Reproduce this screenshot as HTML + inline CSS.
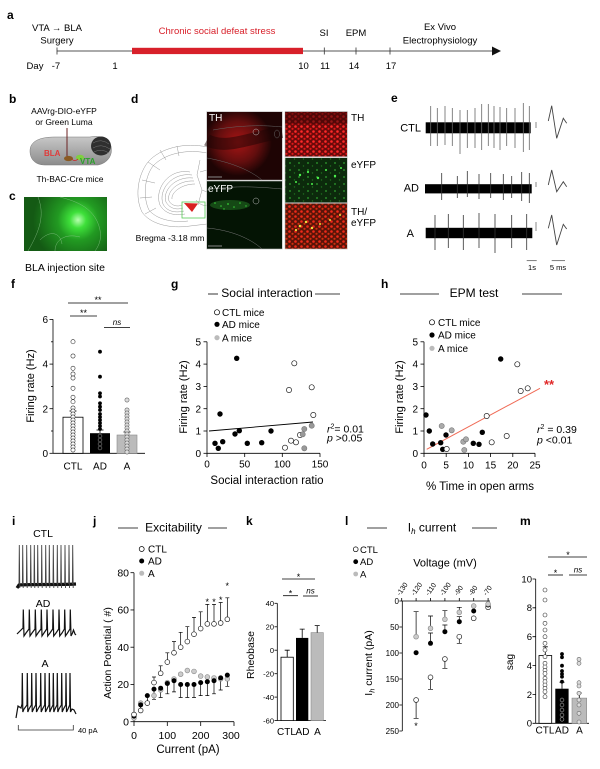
<!DOCTYPE html>
<html><head><meta charset="utf-8"><style>
html,body{margin:0;padding:0;background:#fff;width:600px;height:769px;overflow:hidden;}
svg{display:block;font-family:"Liberation Sans",Arial,sans-serif;}
</style></head><body>
<svg width="600" height="769" viewBox="0 0 600 769" xmlns="http://www.w3.org/2000/svg">
<defs>
<radialGradient id="gc" cx="78" cy="220" r="45" gradientUnits="userSpaceOnUse">
<stop offset="0" stop-color="#b8ffb0"/><stop offset="0.18" stop-color="#3ee03a"/><stop offset="0.45" stop-color="#229a22"/><stop offset="1" stop-color="#145a14"/></radialGradient>
<radialGradient id="thr" cx="238" cy="142" r="34" gradientUnits="userSpaceOnUse">
<stop offset="0" stop-color="#c01818"/><stop offset="0.6" stop-color="#701010"/><stop offset="1" stop-color="#1e0404"/></radialGradient>
<linearGradient id="brain" x1="0" y1="0" x2="0" y2="1"><stop offset="0" stop-color="#c8c8c8"/><stop offset="1" stop-color="#8c8c8c"/></linearGradient>
<pattern id="rd" width="6" height="5" patternUnits="userSpaceOnUse"><rect width="6" height="5" fill="#6a0a0a"/><circle cx="1.5" cy="1.5" r="1.3" fill="#ff2a2a"/><circle cx="4.5" cy="3.8" r="1.1" fill="#e01818"/></pattern>
<pattern id="gd" width="9" height="7" patternUnits="userSpaceOnUse"><rect width="9" height="7" fill="#0c2a0c"/><circle cx="2" cy="2" r="0.9" fill="#2fa02f"/><circle cx="6.5" cy="5" r="0.7" fill="#1f701f"/></pattern>
<pattern id="md" width="6" height="5" patternUnits="userSpaceOnUse"><rect width="6" height="5" fill="#5a1408"/><circle cx="1.5" cy="1.5" r="1.3" fill="#f02a1a"/><circle cx="4.5" cy="3.8" r="1.1" fill="#d03010"/></pattern>
</defs>

<!-- ===== a ===== -->
<text x="7" y="19" font-size="12" font-weight="bold">a</text>
<g font-size="9.5" text-anchor="middle">
<text x="57" y="31">VTA → BLA</text>
<text x="57" y="43.5">Surgery</text>
<text x="217" y="34" fill="#d8202a">Chronic social defeat stress</text>
<text x="324" y="36">SI</text>
<text x="356" y="36">EPM</text>
<text x="440" y="30">Ex Vivo</text>
<text x="440" y="43.5">Electrophysiology</text>
<text x="35" y="69">Day</text>
<text x="56" y="69">-7</text>
<text x="115" y="69">1</text>
<text x="303.5" y="69">10</text>
<text x="325" y="69">11</text>
<text x="354" y="69">14</text>
<text x="391" y="69">17</text>
</g>
<line x1="57" y1="51" x2="494" y2="51" stroke="#555" stroke-width="1"/>
<polygon points="492,46.5 501,51 492,55.5" fill="#111"/>
<g stroke="#333" stroke-width="0.8">
<line x1="57" y1="47.5" x2="57" y2="54.5"/>
<line x1="324.3" y1="47.5" x2="324.3" y2="54.5"/>
<line x1="356" y1="47.5" x2="356" y2="54.5"/>
<line x1="390" y1="47.5" x2="390" y2="54.5"/>
</g>
<rect x="132" y="47.8" width="171" height="6.3" fill="#d8202a"/>

<!-- ===== b ===== -->
<text x="9" y="103" font-size="12" font-weight="bold">b</text>
<g font-size="8.5" text-anchor="middle">
<text x="64" y="114">AAVrg-DIO-eYFP</text>
<text x="64" y="125">or Green Luma</text>
<text x="70" y="182">Th-BAC-Cre mice</text>
</g>
<path d="M30,151 C30,141 40,137 55,137 L90,137 C100,135 108,138 111,146 C113,155 108,163 98,165 L45,165 C35,165 30,159 30,151 Z" fill="url(#brain)" stroke="#777" stroke-width="0.5"/>
<ellipse cx="101" cy="146" rx="10" ry="9.5" fill="#2f2f2f"/>
<path d="M93,143 Q101,138 109,144 M93,148 Q101,143 110,149 M94,152 Q101,148 109,153" stroke="#777" stroke-width="0.5" fill="none"/>
<line x1="67" y1="128" x2="67" y2="157" stroke="#6b2222" stroke-width="1"/>
<ellipse cx="68.5" cy="158.5" rx="4.5" ry="2.6" fill="#8a5a22"/>
<ellipse cx="80" cy="157.5" rx="4" ry="2.8" fill="#7fd040"/>
<path d="M78,159 Q75,162 72,159.5" stroke="#d02020" stroke-width="0.8" fill="none"/>
<text x="44" y="156" font-size="8" font-weight="bold" fill="#e03a3a">BLA</text>
<text x="80" y="164" font-size="8" font-weight="bold" fill="#2aa02a">VTA</text>

<!-- ===== c ===== -->
<text x="9" y="200" font-size="12" font-weight="bold">c</text>
<rect x="24" y="197" width="83" height="54" fill="url(#gc)"/>
<path d="M38,197 C45,215 40,230 28,251 M60,197 C70,200 95,205 100,230 C102,240 98,247 95,251 M55,251 C55,240 65,233 80,237 M40,240 C50,230 60,232 62,244" stroke="#9c9" stroke-width="0.5" fill="none" opacity="0.7"/>
<text x="65" y="271" font-size="10.5" text-anchor="middle">BLA injection site</text>

<!-- ===== d ===== -->
<text x="131" y="103" font-size="12" font-weight="bold">d</text>
<g stroke="#9a9a9a" stroke-width="0.5" fill="none">
<path d="M207,147 C185,142 160,148 148,162 C137,176 135,198 142,212 C150,224 170,229 190,226 L207,224"/>
<path d="M207,153 C188,149 165,153 153,166 C144,178 143,198 149,210 C156,219 172,223 188,221"/>
<path d="M190,172 C168,168 154,190 160,205 C165,214 175,216 185,214"/>
<path d="M192,175 C172,172 158,190 163,204 C167,212 176,213 184,211"/>
<path d="M193,178 C175,176 162,191 166,202 C170,209 177,210 183,208"/>
<path d="M194,181 C178,180 166,192 169,201 C172,206 178,207 182,205"/>
<path d="M195,184 C181,184 171,193 172,199"/>
<path d="M148,162 L160,170 M142,180 L155,183 M140,198 L152,197 M145,214 L156,208 M160,150 L166,160 M177,146 L179,156"/>
<path d="M200,160 L197,175 L202,190 L198,205 M207,170 L200,172 M202,190 L207,192"/>
<path d="M196,200 C200,205 204,206 207,205"/>
</g>
<polygon points="184,203 198,203.5 192,212" fill="#d82020"/>
<rect x="182" y="202" width="23" height="16" fill="none" stroke="#5c5" stroke-width="0.8"/>
<text x="170" y="241" font-size="8.6" text-anchor="middle">Bregma -3.18 mm</text>

<rect x="206.7" y="111.7" width="75.6" height="68.3" fill="#1c0404" stroke="#bbb" stroke-width="0.6"/>
<rect x="207" y="112" width="75" height="67.7" fill="url(#thr)" opacity="0.85"/>
<path d="M207,140 C225,150 250,138 282,132" stroke="#1c0404" stroke-width="12" fill="none" opacity="0.5"/>
<path d="M213,130 C240,125 265,125 282,127 M207,158 C230,162 250,170 262,180" stroke="#666" stroke-width="0.5" fill="none"/>
<ellipse cx="256" cy="132" rx="3" ry="3" fill="none" stroke="#bbb" stroke-width="0.5"/>
<ellipse cx="277" cy="134" rx="2.5" ry="4" fill="none" stroke="#666" stroke-width="0.5"/>
<line x1="208" y1="177" x2="222" y2="177" stroke="#888" stroke-width="1"/>
<text x="209" y="121" font-size="10" fill="#fff">TH</text>

<rect x="206.7" y="181" width="75.6" height="68" fill="#041404" stroke="#bbb" stroke-width="0.6"/>
<path d="M207,190 C235,185 260,187 282,189 M207,228 C230,230 250,238 262,249" stroke="#777" stroke-width="0.5" fill="none"/>
<ellipse cx="230" cy="205" rx="20" ry="5" fill="#2a8a2a" opacity="0.45"/>
<g fill="#3bd03b"><circle cx="215" cy="203" r="0.8"/><circle cx="221" cy="206" r="0.8"/><circle cx="228" cy="204" r="0.9"/><circle cx="234" cy="207" r="0.8"/><circle cx="240" cy="203" r="0.8"/><circle cx="246" cy="206" r="0.7"/><circle cx="224" cy="209" r="0.7"/></g>
<ellipse cx="256" cy="201" rx="3" ry="3" fill="none" stroke="#bbb" stroke-width="0.5"/>
<line x1="208" y1="246" x2="222" y2="246" stroke="#888" stroke-width="1"/>
<text x="208" y="192" font-size="10" fill="#fff">eYFP</text>

<rect x="285" y="111.7" width="62.3" height="45" fill="url(#rd)" stroke="#bbb" stroke-width="0.6"/>
<rect x="285" y="111.7" width="62.3" height="12" fill="#3a0606" opacity="0.55"/>
<rect x="285" y="157.7" width="62.3" height="45" fill="url(#gd)" stroke="#bbb" stroke-width="0.6"/>
<g fill="#4cf04c"><circle cx="300" cy="175" r="1.2"/><circle cx="308" cy="172" r="1.1"/><circle cx="318" cy="178" r="1.2"/><circle cx="326" cy="170" r="1"/><circle cx="335" cy="176" r="1.2"/><circle cx="341" cy="168" r="1"/><circle cx="296" cy="182" r="1"/><circle cx="312" cy="184" r="1"/></g>
<rect x="285" y="203.3" width="62.3" height="45.7" fill="url(#md)" stroke="#bbb" stroke-width="0.6"/>
<g fill="#e8e040"><circle cx="300" cy="226" r="1.3"/><circle cx="306" cy="222" r="1.2"/><circle cx="312" cy="228" r="1.2"/><circle cx="296" cy="230" r="1.1"/><circle cx="320" cy="224" r="1"/><circle cx="330" cy="220" r="1"/><circle cx="340" cy="215" r="1"/></g>
<g font-size="10"><text x="351" y="121">TH</text><text x="351" y="168">eYFP</text><text x="351" y="215">TH/</text><text x="351" y="226">eYFP</text></g>

<!-- ===== e ===== -->
<text x="391" y="102" font-size="12" font-weight="bold">e</text>
<g font-size="11" text-anchor="end"><text x="421" y="131.5">CTL</text><text x="419" y="191.5">AD</text><text x="414" y="237">A</text></g>
<rect x="425.7" y="122.3" width="105" height="11" fill="#000"/>
<rect x="425" y="184.2" width="106.7" height="9.2" fill="#000"/>
<rect x="425.7" y="227.8" width="106.6" height="10.4" fill="#000"/>
<g stroke="#666" stroke-width="0.8">
<line x1="430.7" y1="106" x2="430.7" y2="146"/><line x1="437.3" y1="108" x2="437.3" y2="146"/><line x1="445" y1="106" x2="445" y2="145"/><line x1="452.3" y1="108" x2="452.3" y2="146"/><line x1="460" y1="110" x2="460" y2="154"/><line x1="467.3" y1="110" x2="467.3" y2="148"/><line x1="475" y1="108" x2="475" y2="148"/><line x1="481.7" y1="104" x2="481.7" y2="150"/><line x1="488.3" y1="104" x2="488.3" y2="146"/><line x1="494" y1="106" x2="494" y2="148"/><line x1="500" y1="107" x2="500" y2="150"/><line x1="506.7" y1="108" x2="506.7" y2="146"/><line x1="515" y1="108" x2="515" y2="148"/><line x1="523.3" y1="103" x2="523.3" y2="152"/><line x1="529.3" y1="106" x2="529.3" y2="150"/>
</g>
<g stroke="#333" stroke-width="0.8">
<line x1="441.7" y1="173" x2="441.7" y2="200"/><line x1="457.3" y1="176" x2="457.3" y2="198"/><line x1="467.3" y1="171" x2="467.3" y2="197"/><line x1="479" y1="174" x2="479" y2="199"/><line x1="490.7" y1="173" x2="490.7" y2="198"/><line x1="503.3" y1="174" x2="503.3" y2="200"/><line x1="511.7" y1="176" x2="511.7" y2="198"/><line x1="521.7" y1="172" x2="521.7" y2="201"/><line x1="529.3" y1="173" x2="529.3" y2="203"/>
<line x1="435" y1="215" x2="435" y2="250"/><line x1="448.3" y1="214" x2="448.3" y2="248"/><line x1="463.3" y1="215" x2="463.3" y2="250"/><line x1="479" y1="213" x2="479" y2="248"/><line x1="495" y1="214" x2="495" y2="253"/><line x1="511.7" y1="215" x2="511.7" y2="248"/><line x1="526.7" y1="214" x2="526.7" y2="250"/>
</g>
<g stroke="#888" stroke-width="1"><line x1="536" y1="122" x2="536" y2="128"/><line x1="536" y1="182" x2="536" y2="187"/><line x1="536" y1="222" x2="536" y2="231"/></g>
<g stroke="#444" stroke-width="0.9" fill="none">
<path d="M548.3,121 L551.7,105.7 L556.7,138.3 L563.3,118.3 L566.7,123.3"/>
<path d="M548.3,185 L551.7,170 L556.7,191.7 L563.3,181.7 L566.7,186.7"/>
<path d="M548.3,228.3 L551.7,215 L556.7,245 L563.3,224.3 L566.7,229"/>
</g>
<g stroke="#444" stroke-width="0.7"><line x1="526.7" y1="260.7" x2="536.7" y2="260.7"/><line x1="551.7" y1="260.7" x2="565" y2="260.7"/></g>
<g font-size="7.5" text-anchor="middle"><text x="532" y="270">1s</text><text x="558" y="270">5 ms</text></g>

<!-- ===== f ===== -->
<text x="11" y="288" font-size="12" font-weight="bold">f</text>
<g stroke="#000" stroke-width="0.8" fill="none">
<line x1="53" y1="319.3" x2="53" y2="453.3"/><line x1="53" y1="453.3" x2="145" y2="453.3"/>
<line x1="49.5" y1="453.3" x2="53" y2="453.3"/><line x1="49.5" y1="408.7" x2="53" y2="408.7"/><line x1="49.5" y1="364.1" x2="53" y2="364.1"/><line x1="49.5" y1="319.5" x2="53" y2="319.5"/>
<line x1="51" y1="431" x2="53" y2="431"/><line x1="51" y1="386.4" x2="53" y2="386.4"/><line x1="51" y1="341.8" x2="53" y2="341.8"/>
</g>
<g font-size="10" text-anchor="end"><text x="48" y="457">0</text><text x="48" y="412.3">2</text><text x="48" y="367.7">4</text><text x="48" y="323">6</text></g>
<text transform="translate(34,386) rotate(-90)" font-size="11" text-anchor="middle">Firing rate (Hz)</text>
<rect x="63" y="417.2" width="20" height="36.1" fill="#fff" stroke="#000" stroke-width="0.8"/>
<rect x="90" y="433.2" width="20" height="20.1" fill="#000"/>
<rect x="117" y="435" width="20" height="18.3" fill="#bbb" stroke="#888" stroke-width="0.6"/>
<g stroke="#000" stroke-width="0.8"><line x1="73" y1="417" x2="73" y2="411"/><line x1="69.5" y1="411" x2="76.5" y2="411"/><line x1="100" y1="433" x2="100" y2="430"/><line x1="96.5" y1="430" x2="103.5" y2="430"/><line x1="127" y1="435" x2="127" y2="432"/><line x1="123.5" y1="432" x2="130.5" y2="432"/></g>
<g fill="#fff" stroke="#333" stroke-width="0.6">
<circle cx="73" cy="341.7" r="2.1"/><circle cx="73" cy="356" r="2.1"/><circle cx="73" cy="368.3" r="2.1"/><circle cx="73" cy="374" r="2.1"/><circle cx="73" cy="378" r="2.1"/><circle cx="73" cy="388.3" r="2.1"/><circle cx="73" cy="397.3" r="2.1"/><circle cx="73" cy="401.7" r="2.1"/><circle cx="73" cy="408" r="2.1"/><circle cx="73" cy="411" r="2.1"/><circle cx="73" cy="414" r="2.1"/><circle cx="73" cy="417" r="2.1"/><circle cx="73" cy="420" r="2.1"/><circle cx="73" cy="423" r="2.1"/><circle cx="73" cy="426" r="2.1"/><circle cx="73" cy="429" r="2.1"/><circle cx="73" cy="432" r="2.1"/><circle cx="73" cy="435" r="2.1"/><circle cx="73" cy="438" r="2.1"/><circle cx="73" cy="441" r="2.1"/><circle cx="73" cy="444" r="2.1"/><circle cx="73" cy="447" r="2.1"/><circle cx="73" cy="450" r="2.1"/>
</g>
<g fill="#000">
<circle cx="100" cy="351.7" r="1.9"/><circle cx="100" cy="376.7" r="1.9"/><circle cx="100" cy="393.3" r="1.9"/><circle cx="100" cy="396.5" r="1.9"/><circle cx="100" cy="403.3" r="1.9"/><circle cx="100" cy="406.7" r="1.9"/><circle cx="100" cy="410" r="1.9"/><circle cx="100" cy="414" r="1.9"/><circle cx="100" cy="417" r="1.9"/><circle cx="100" cy="420" r="1.9"/><circle cx="100" cy="423" r="1.9"/><circle cx="100" cy="426" r="1.9"/><circle cx="100" cy="429" r="1.9"/>
</g>
<g fill="none" stroke="#888" stroke-width="0.6"><circle cx="100" cy="436" r="1.9"/><circle cx="100" cy="440" r="1.9"/><circle cx="100" cy="444" r="1.9"/><circle cx="100" cy="448" r="1.9"/></g>
<g fill="#ddd" stroke="#666" stroke-width="0.6">
<circle cx="127" cy="400" r="2.1"/><circle cx="127" cy="410" r="2.1"/><circle cx="127" cy="413" r="2.1"/><circle cx="127" cy="416" r="2.1"/><circle cx="127" cy="419" r="2.1"/><circle cx="127" cy="422" r="2.1"/><circle cx="127" cy="425" r="2.1"/><circle cx="127" cy="428" r="2.1"/><circle cx="127" cy="431" r="2.1"/><circle cx="127" cy="434" r="2.1"/><circle cx="127" cy="437" r="2.1"/><circle cx="127" cy="440" r="2.1"/><circle cx="127" cy="443" r="2.1"/><circle cx="127" cy="446" r="2.1"/><circle cx="127" cy="449" r="2.1"/><circle cx="127" cy="452" r="2.1"/>
</g>
<g font-size="10" text-anchor="middle"><text x="73" y="469.5">CTL</text><text x="100" y="469.5">AD</text><text x="127" y="469.5">A</text></g>
<g stroke="#000" stroke-width="0.8"><line x1="68" y1="303" x2="128" y2="303"/><line x1="70" y1="316" x2="97" y2="316"/><line x1="104" y1="327.5" x2="130" y2="327.5"/></g>
<g font-size="9" text-anchor="middle"><text x="98" y="303">**</text><text x="83.5" y="316">**</text><text x="117" y="325" font-style="italic" font-size="8">ns</text></g>

<!-- ===== g ===== -->
<text x="171" y="288" font-size="12" font-weight="bold">g</text>
<text x="267" y="297" font-size="12" text-anchor="middle">Social interaction</text>
<g stroke="#000" stroke-width="0.8"><line x1="208" y1="294" x2="218" y2="294"/><line x1="315" y1="294" x2="340" y2="294"/></g>
<circle cx="217" cy="312.3" r="2.6" fill="#fff" stroke="#000" stroke-width="0.7"/>
<circle cx="217" cy="324.3" r="2.6" fill="#000"/>
<circle cx="217" cy="337.7" r="2.6" fill="#bbb"/>
<g font-size="10"><text x="222" y="316">CTL mice</text><text x="222" y="328">AD mice</text><text x="222" y="341.3">A mice</text></g>
<g stroke="#000" stroke-width="0.8" fill="none">
<line x1="207" y1="341.7" x2="207" y2="453.3"/><line x1="207" y1="453.3" x2="320" y2="453.3"/>
<line x1="203.5" y1="453.3" x2="207" y2="453.3"/><line x1="203.5" y1="431" x2="207" y2="431"/><line x1="203.5" y1="408.7" x2="207" y2="408.7"/><line x1="203.5" y1="386.4" x2="207" y2="386.4"/><line x1="203.5" y1="364.1" x2="207" y2="364.1"/><line x1="203.5" y1="341.8" x2="207" y2="341.8"/>
<line x1="207" y1="453.3" x2="207" y2="457"/><line x1="244.7" y1="453.3" x2="244.7" y2="457"/><line x1="282.3" y1="453.3" x2="282.3" y2="457"/><line x1="320" y1="453.3" x2="320" y2="457"/>
</g>
<g font-size="10" text-anchor="end"><text x="201" y="457">0</text><text x="201" y="434.6">1</text><text x="201" y="412.3">2</text><text x="201" y="390">3</text><text x="201" y="367.7">4</text><text x="201" y="345.4">5</text></g>
<g font-size="10" text-anchor="middle"><text x="207" y="467.5">0</text><text x="244.7" y="467.5">50</text><text x="282.3" y="467.5">100</text><text x="320" y="467.5">150</text></g>
<text x="267" y="484" font-size="11.5" text-anchor="middle">Social interaction ratio</text>
<text transform="translate(187,397) rotate(-90)" font-size="11" text-anchor="middle">Firing rate (Hz)</text>
<line x1="209" y1="431" x2="313" y2="422" stroke="#000" stroke-width="0.9"/>
<g fill="#000">
<circle cx="215" cy="443.3" r="2.7"/><circle cx="218.3" cy="448.3" r="2.7"/><circle cx="220" cy="414" r="2.7"/><circle cx="222.7" cy="441.7" r="2.7"/><circle cx="235" cy="434" r="2.7"/><circle cx="236.7" cy="358.3" r="2.7"/><circle cx="239.3" cy="430.7" r="2.7"/><circle cx="247.3" cy="443.3" r="2.7"/><circle cx="261.7" cy="442.7" r="2.7"/><circle cx="271" cy="431" r="2.7"/>
</g>
<g fill="#fff" stroke="#222" stroke-width="0.7">
<circle cx="285" cy="447.7" r="2.6"/><circle cx="289" cy="390" r="2.6"/><circle cx="291" cy="440.7" r="2.6"/><circle cx="294.3" cy="363.3" r="2.6"/><circle cx="296" cy="442.3" r="2.6"/><circle cx="300" cy="435" r="2.6"/><circle cx="311.7" cy="387.3" r="2.6"/><circle cx="313.3" cy="415" r="2.6"/>
</g>
<g fill="#999" stroke="#777" stroke-width="0.6">
<circle cx="302.7" cy="434.3" r="2.6"/><circle cx="304.3" cy="429" r="2.6"/><circle cx="304.3" cy="448.3" r="2.6"/><circle cx="311.7" cy="425.7" r="2.6"/>
</g>
<g font-size="10.5"><text x="327" y="432.5"><tspan font-style="italic">r</tspan><tspan font-size="7" dy="-4">2</tspan><tspan dy="4">= 0.01</tspan></text><text x="327" y="441.5"><tspan font-style="italic">p</tspan> &gt;0.05</text></g>

<!-- ===== h ===== -->
<text x="381" y="288" font-size="12" font-weight="bold">h</text>
<text x="474" y="297" font-size="12" text-anchor="middle">EPM test</text>
<g stroke="#000" stroke-width="0.8"><line x1="400" y1="294" x2="439" y2="294"/><line x1="522" y1="294" x2="562" y2="294"/></g>
<circle cx="432" cy="322.3" r="2.6" fill="#fff" stroke="#000" stroke-width="0.7"/>
<circle cx="432" cy="335" r="2.6" fill="#000"/>
<circle cx="432" cy="348.3" r="2.6" fill="#bbb"/>
<g font-size="10"><text x="438" y="326">CTL mice</text><text x="438" y="338.7">AD mice</text><text x="438" y="352">A mice</text></g>
<g stroke="#000" stroke-width="0.8" fill="none">
<line x1="424" y1="341.7" x2="424" y2="453.3"/><line x1="424" y1="453.3" x2="535" y2="453.3"/>
<line x1="420.5" y1="453.3" x2="424" y2="453.3"/><line x1="420.5" y1="431" x2="424" y2="431"/><line x1="420.5" y1="408.7" x2="424" y2="408.7"/><line x1="420.5" y1="386.4" x2="424" y2="386.4"/><line x1="420.5" y1="364.1" x2="424" y2="364.1"/><line x1="420.5" y1="341.8" x2="424" y2="341.8"/>
<line x1="424" y1="453.3" x2="424" y2="457"/><line x1="446.2" y1="453.3" x2="446.2" y2="457"/><line x1="468.4" y1="453.3" x2="468.4" y2="457"/><line x1="490.6" y1="453.3" x2="490.6" y2="457"/><line x1="512.8" y1="453.3" x2="512.8" y2="457"/><line x1="535" y1="453.3" x2="535" y2="457"/>
</g>
<g font-size="10" text-anchor="end"><text x="418" y="457">0</text><text x="418" y="434.6">1</text><text x="418" y="412.3">2</text><text x="418" y="390">3</text><text x="418" y="367.7">4</text><text x="418" y="345.4">5</text></g>
<g font-size="10" text-anchor="middle"><text x="424" y="468.5">0</text><text x="446.2" y="468.5">5</text><text x="468.4" y="468.5">10</text><text x="490.6" y="468.5">15</text><text x="512.8" y="468.5">20</text><text x="535" y="468.5">25</text></g>
<text x="480" y="490" font-size="11.5" text-anchor="middle">% Time in open arms</text>
<text transform="translate(403,397) rotate(-90)" font-size="11" text-anchor="middle">Firing rate (Hz)</text>
<line x1="426.7" y1="449.3" x2="540" y2="388.3" stroke="#f06a55" stroke-width="1"/>
<text x="549" y="389" font-size="13" fill="#e02828" text-anchor="middle" font-weight="bold">**</text>
<g fill="#000">
<circle cx="426" cy="415" r="2.7"/><circle cx="429.3" cy="431" r="2.7"/><circle cx="432.7" cy="444" r="2.7"/><circle cx="440.7" cy="442.7" r="2.7"/><circle cx="442.7" cy="449.3" r="2.7"/><circle cx="446" cy="435" r="2.7"/><circle cx="473.3" cy="443.3" r="2.7"/><circle cx="479" cy="444.3" r="2.7"/><circle cx="482.3" cy="432.3" r="2.7"/><circle cx="500.7" cy="359" r="2.7"/>
</g>
<g fill="#fff" stroke="#222" stroke-width="0.7">
<circle cx="446.7" cy="449" r="2.6"/><circle cx="486.7" cy="416" r="2.6"/><circle cx="491.7" cy="442.3" r="2.6"/><circle cx="506.7" cy="436" r="2.6"/><circle cx="517.3" cy="364.3" r="2.6"/><circle cx="520.7" cy="391" r="2.6"/><circle cx="527.7" cy="388.3" r="2.6"/>
</g>
<g fill="#aaa" stroke="#777" stroke-width="0.6">
<circle cx="441.7" cy="426" r="2.6"/><circle cx="451.7" cy="430.3" r="2.6"/><circle cx="463.3" cy="441.7" r="2.6"/><circle cx="466" cy="439.3" r="2.6"/><circle cx="464.3" cy="450" r="2.6"/>
</g>
<g font-size="10.5"><text x="537" y="433"><tspan font-style="italic">r</tspan><tspan font-size="7" dy="-4">2</tspan><tspan dy="4"> = 0.39</tspan></text><text x="537" y="443.5"><tspan font-style="italic">p</tspan> &lt;0.01</text></g>

<!-- ===== i ===== -->
<text x="12" y="525" font-size="12" font-weight="bold">i</text>
<g font-size="10.5" text-anchor="middle"><text x="43" y="537">CTL</text><text x="43" y="607">AD</text><text x="45" y="667">A</text></g>
<path d="M17,588 L19,585 C30,584 60,585 76,584" stroke="#111" stroke-width="3.2" fill="none"/>
<path d="M19,584 L19.3,545 L19.8,588 M22.4,584 L22.7,545 L23.2,588 M26.4,584 L26.7,545 L27.2,588 M30.4,584 L30.7,545 L31.2,588 M34,584 L34.3,545 L34.8,588 M37.4,584 L37.7,545 L38.2,588 M41.4,584 L41.7,545 L42.2,588 M45.4,584 L45.7,545 L46.2,588 M49,584 L49.3,545 L49.8,588 M53,584 L53.3,545 L53.8,588 M57,584 L57.3,545 L57.8,588 M60.7,584 L61,545 L61.5,588 M64.7,584 L65,545 L65.5,588 M68.7,584 L69,545 L69.5,588 M72.4,584 L72.7,545 L73.2,588" stroke="#444" stroke-width="0.9" fill="none"/>
<path d="M17,634 L20,631 L23,628 L23.3,609.5 L24,636 L26,633 L29,629 L29.3,609.5 L30,636 L32,633 L35,629 L35.3,609.5 L36,636 L38,633 L41,629 L41.3,609.5 L42,636 L44,633 L46.7,629 L47,609.5 L47.7,636 L50,633 L52.7,629 L53,609.5 L53.7,636 L56,633 L58.7,629 L59,609.5 L59.7,636 L62,633 L64.4,629 L64.7,609.5 L65.4,636 L67.5,633 L70,629 L70.3,609.5 L71,636 L72.5,633 L73.5,630 L75,634 L76,635" stroke="#111" stroke-width="1.2" fill="none"/>
<path d="M16,718 L18,706 L21,708 L22,704 L22.3,673 L22.8,712 L24,709 L27,705 L27.3,673 L27.8,712 L29,709 L31.4,705 L31.7,673 L32.2,712 L33.5,709 L35.7,705 L36,673 L36.5,712 L38,709 L40.4,705 L40.7,673 L41.2,712 L42.5,709 L44.7,705 L45,673 L45.5,712 L47,709 L49,705 L49.3,673 L49.8,712 L51,709 L53,705 L53.3,673 L53.8,712 L55,709 L57,705 L57.3,673 L57.8,712 L59,709 L61.4,705 L61.7,673 L62.2,712 L63.5,709 L65.7,705 L66,673 L66.5,712 L68,709 L69.7,705 L70,673 L70.5,712 L72,709 L74,710 L76,714" stroke="#111" stroke-width="1.2" fill="none"/>
<path d="M18.3,725 L18.3,730 L73.3,730 L73.3,725" stroke="#333" stroke-width="0.8" fill="none"/>
<text x="78" y="733" font-size="7.5">40 pA</text>

<!-- ===== j ===== -->
<text x="93" y="525" font-size="12" font-weight="bold">j</text>
<text x="173.5" y="531.7" font-size="12" text-anchor="middle">Excitability</text>
<g stroke="#000" stroke-width="0.8"><line x1="118" y1="528" x2="138" y2="528"/><line x1="208" y1="528" x2="227" y2="528"/></g>
<circle cx="141.7" cy="549" r="2.5" fill="#fff" stroke="#000" stroke-width="0.7"/>
<circle cx="141.7" cy="561" r="2.5" fill="#000"/>
<circle cx="141.7" cy="573.3" r="2.5" fill="#bbb"/>
<g font-size="10"><text x="148" y="552.5">CTL</text><text x="148" y="564.5">AD</text><text x="148" y="577">A</text></g>
<g stroke="#000" stroke-width="0.8" fill="none">
<line x1="134" y1="572.7" x2="134" y2="721.7"/><line x1="134" y1="721.7" x2="234" y2="721.7"/>
<line x1="130.5" y1="721.7" x2="134" y2="721.7"/><line x1="130.5" y1="684.45" x2="134" y2="684.45"/><line x1="130.5" y1="647.2" x2="134" y2="647.2"/><line x1="130.5" y1="609.95" x2="134" y2="609.95"/><line x1="130.5" y1="572.7" x2="134" y2="572.7"/>
<line x1="134" y1="721.7" x2="134" y2="726"/><line x1="167.3" y1="721.7" x2="167.3" y2="726"/><line x1="200.7" y1="721.7" x2="200.7" y2="726"/><line x1="234" y1="721.7" x2="234" y2="726"/>
</g>
<g font-size="10.5" text-anchor="end"><text x="129" y="725.5">0</text><text x="129" y="688.2">20</text><text x="129" y="651">40</text><text x="129" y="613.7">60</text><text x="129" y="576.5">80</text></g>
<g font-size="10.5" text-anchor="middle"><text x="134" y="739">0</text><text x="167.3" y="739">100</text><text x="200.7" y="739">200</text><text x="231" y="739">300</text></g>
<text x="188" y="753" font-size="11.5" text-anchor="middle">Current (pA)</text>
<text transform="translate(111,653) rotate(-90)" font-size="10.5" text-anchor="middle">Action Potential ( #)</text>
<g stroke="#000" stroke-width="0.7" fill="none">
<path d="M134,716.1 V712.4 M140.67,710.5 V704.9 M147.33,703.1 V699.3 M154,682.6 V677 M160.67,673.3 V665.8 M167.33,662.1 V652.8 M174,652.8 V641.6 M180.67,647.2 V632.3 M187.33,641.6 V626.7 M194,634.2 V617.4 M200.67,628.6 V611.8 M207.33,623.9 V604.4 M214,623.9 V604.4 M220.67,623 V602.5 M227.33,619.3 V597.8"/>
<path d="M152,677 H156 M158.67,665.8 H162.67 M165.33,652.8 H169.33 M172,641.6 H176 M178.67,632.3 H182.67 M185.33,626.7 H189.33 M192,617.4 H196 M198.67,611.8 H202.67 M205.33,604.4 H209.33 M212,604.4 H216 M218.67,602.5 H222.67 M225.33,597.8 H229.33"/>
<path d="M140.67,704.9 V710.5 M147.33,695.6 V703.1 M154,689.1 V699.3 M160.67,688.2 V697.5 M167.33,683.5 V693.8 M174,680.7 V691.9 M180.67,684.5 V697.5 M187.33,684.5 V697.5 M194,684.5 V697.5 M200.67,682.6 V695.6 M207.33,681.7 V695.6 M214,680.7 V693.8 M220.67,677.9 V690 M227.33,675.1 V686.3"/>
<path d="M152,699.3 H156 M158.67,697.5 H162.67 M165.33,693.8 H169.33 M172,691.9 H176 M178.67,697.5 H182.67 M185.33,697.5 H189.33 M192,697.5 H196 M198.67,695.6 H202.67 M205.33,695.6 H209.33 M212,693.8 H216 M218.67,690 H222.67 M225.33,686.3 H229.33"/>
</g>
<g fill="#ccc" stroke="#888" stroke-width="0.6">
<circle cx="134" cy="718" r="2.4"/><circle cx="140.67" cy="703.1" r="2.4"/><circle cx="147.33" cy="703.1" r="2.4"/><circle cx="154" cy="695.6" r="2.4"/><circle cx="160.67" cy="690" r="2.4"/><circle cx="167.33" cy="682.6" r="2.4"/><circle cx="174" cy="678.9" r="2.4"/><circle cx="180.67" cy="674.2" r="2.4"/><circle cx="187.33" cy="670.5" r="2.4"/><circle cx="194" cy="671.4" r="2.4"/><circle cx="200.67" cy="676.1" r="2.4"/><circle cx="207.33" cy="677" r="2.4"/><circle cx="214" cy="677.9" r="2.4"/><circle cx="220.67" cy="678.9" r="2.4"/><circle cx="227.33" cy="678.9" r="2.4"/>
</g>
<g fill="#000">
<circle cx="134" cy="716.1" r="2.5"/><circle cx="140.67" cy="704.9" r="2.5"/><circle cx="147.33" cy="695.6" r="2.5"/><circle cx="154" cy="689.1" r="2.5"/><circle cx="160.67" cy="688.2" r="2.5"/><circle cx="167.33" cy="683.5" r="2.5"/><circle cx="174" cy="680.7" r="2.5"/><circle cx="180.67" cy="684.5" r="2.5"/><circle cx="187.33" cy="684.5" r="2.5"/><circle cx="194" cy="684.5" r="2.5"/><circle cx="200.67" cy="682.6" r="2.5"/><circle cx="207.33" cy="681.7" r="2.5"/><circle cx="214" cy="680.7" r="2.5"/><circle cx="220.67" cy="677.9" r="2.5"/><circle cx="227.33" cy="675.1" r="2.5"/>
</g>
<g fill="#fff" stroke="#222" stroke-width="0.7">
<circle cx="134" cy="714.5" r="2.4"/><circle cx="140.67" cy="710.5" r="2.4"/><circle cx="147.33" cy="703.1" r="2.4"/><circle cx="154" cy="682.6" r="2.4"/><circle cx="160.67" cy="673.3" r="2.4"/><circle cx="167.33" cy="662.1" r="2.4"/><circle cx="174" cy="652.8" r="2.4"/><circle cx="180.67" cy="647.2" r="2.4"/><circle cx="187.33" cy="641.6" r="2.4"/><circle cx="194" cy="634.2" r="2.4"/><circle cx="200.67" cy="628.6" r="2.4"/><circle cx="207.33" cy="623.9" r="2.4"/><circle cx="214" cy="623.9" r="2.4"/><circle cx="220.67" cy="623" r="2.4"/><circle cx="227.33" cy="619.3" r="2.4"/>
</g>
<g font-size="9" text-anchor="middle"><text x="207.3" y="605">*</text><text x="214" y="605">*</text><text x="220.7" y="603">*</text><text x="227.3" y="589">*</text></g>

<!-- ===== k ===== -->
<text x="246" y="525" font-size="12" font-weight="bold">k</text>
<g stroke="#000" stroke-width="0.8" fill="none">
<line x1="277.3" y1="603.3" x2="277.3" y2="720.6"/><line x1="277.3" y1="720.6" x2="326" y2="720.6"/>
<line x1="274.5" y1="603.3" x2="277.3" y2="603.3"/><line x1="274.5" y1="626.8" x2="277.3" y2="626.8"/><line x1="274.5" y1="650.2" x2="277.3" y2="650.2"/><line x1="274.5" y1="673.7" x2="277.3" y2="673.7"/><line x1="274.5" y1="697.1" x2="277.3" y2="697.1"/><line x1="274.5" y1="720.6" x2="277.3" y2="720.6"/>
</g>
<g font-size="7.5" text-anchor="end"><text x="274" y="606">40</text><text x="274" y="629.5">20</text><text x="274" y="653">0</text><text x="274" y="676.4">-20</text><text x="274" y="699.8">-40</text><text x="274" y="723.3">-60</text></g>
<text transform="translate(254,655) rotate(-90)" font-size="10.5" text-anchor="middle">Rheobase</text>
<rect x="281" y="657.2" width="12.3" height="63.4" fill="#fff" stroke="#000" stroke-width="0.8"/>
<rect x="296" y="637.9" width="12.3" height="82.7" fill="#000"/>
<rect x="311" y="632.6" width="12.3" height="88" fill="#bbb" stroke="#888" stroke-width="0.6"/>
<g stroke="#000" stroke-width="0.8"><path d="M287.2,657.2 V650.2 M284.7,650.2 H289.7 M302.2,637.9 V629.1 M299.7,629.1 H304.7 M317.2,632.6 V625.6 M314.7,625.6 H319.7" fill="none"/>
<line x1="282" y1="579" x2="315" y2="579"/><line x1="283" y1="595.7" x2="298" y2="595.7"/><line x1="303" y1="596" x2="318" y2="596"/></g>
<g font-size="9" text-anchor="middle"><text x="298.5" y="580">*</text><text x="290.5" y="596.5">*</text><text x="310.5" y="593.5" font-style="italic" font-size="8">ns</text></g>
<g font-size="10" text-anchor="middle"><text x="286.5" y="735">CTL</text><text x="302.5" y="735">AD</text><text x="317.5" y="735">A</text></g>

<!-- ===== l ===== -->
<text x="345" y="525" font-size="12" font-weight="bold">l</text>
<text x="432" y="531.7" font-size="12" text-anchor="middle">I<tspan font-style="italic" font-size="8" dy="2.5">h</tspan><tspan dy="-2.5"> current</tspan></text>
<g stroke="#000" stroke-width="0.8"><line x1="367" y1="528" x2="387" y2="528"/><line x1="472" y1="528" x2="497" y2="528"/></g>
<circle cx="355.7" cy="549.3" r="2.4" fill="#fff" stroke="#000" stroke-width="0.7"/>
<circle cx="355.7" cy="561.7" r="2.4" fill="#000"/>
<circle cx="355.7" cy="574" r="2.4" fill="#bbb"/>
<g font-size="9.5"><text x="360" y="552.8">CTL</text><text x="360" y="565.2">AD</text><text x="360" y="577.5">A</text></g>
<text x="445" y="566.5" font-size="11" text-anchor="middle">Voltage (mV)</text>
<g stroke="#000" stroke-width="0.8" fill="none">
<line x1="401.7" y1="601" x2="490" y2="601"/><line x1="402.3" y1="601" x2="402.3" y2="731"/>
<path d="M401.7,601 V598 M416.1,601 V598 M430.5,601 V598 M444.9,601 V598 M459.3,601 V598 M473.7,601 V598 M488.1,601 V598"/>
<path d="M399.3,601 H402.3 M399.3,627 H402.3 M399.3,653 H402.3 M399.3,679 H402.3 M399.3,705 H402.3 M399.3,731 H402.3"/>
</g>
<g font-size="7">
<text transform="translate(400,596) rotate(-55)">-130</text>
<text transform="translate(414.4,596) rotate(-55)">-120</text>
<text transform="translate(428.8,596) rotate(-55)">-110</text>
<text transform="translate(443.2,596) rotate(-55)">-100</text>
<text transform="translate(457.6,596) rotate(-55)">-90</text>
<text transform="translate(472,596) rotate(-55)">-80</text>
<text transform="translate(486.4,596) rotate(-55)">-70</text>
</g>
<g font-size="8" text-anchor="end"><text x="399" y="604">0</text><text x="399" y="630">50</text><text x="399" y="656">100</text><text x="399" y="682">150</text><text x="399" y="708">200</text><text x="399" y="734">250</text></g>
<text transform="translate(372,663) rotate(-90)" font-size="10.5" text-anchor="middle">I<tspan font-style="italic" font-size="7.5" dy="2.5">h</tspan><tspan dy="-2.5"> current (pA)</tspan></text>
<g stroke="#000" stroke-width="0.7" fill="none">
<path d="M416.1,700 V718.3 M413.6,718.3 H418.6 M430.5,677.3 V689.3 M428,689.3 H433 M444.9,659 V668.3 M442.4,668.3 H447.4 M459.3,636.7 V643.3 M456.8,643.3 H461.8"/>
<path d="M430.5,643.3 V633 M428,633 H433 M444.9,631.7 V625 M442.4,625 H447.4 M459.3,621.7 V616.7 M456.8,616.7 H461.8"/>
<path d="M416.1,636.7 V611.7 M413.6,611.7 H418.6 M430.5,628.3 V616 M428,616 H433 M444.9,619.3 V610.7 M442.4,610.7 H447.4 M459.3,612.3 V607.3 M456.8,607.3 H461.8"/>
</g>
<g fill="#fff" stroke="#222" stroke-width="0.7">
<circle cx="416.1" cy="700" r="2.4"/><circle cx="430.5" cy="677.3" r="2.4"/><circle cx="444.9" cy="659" r="2.4"/><circle cx="459.3" cy="636.7" r="2.4"/><circle cx="473.7" cy="618.3" r="2.4"/><circle cx="488.1" cy="607.3" r="2.4"/>
</g>
<g fill="#000">
<circle cx="416.1" cy="652.7" r="2.5"/><circle cx="430.5" cy="643.3" r="2.5"/><circle cx="444.9" cy="631.7" r="2.5"/><circle cx="459.3" cy="621.7" r="2.5"/><circle cx="473.7" cy="611" r="2.5"/><circle cx="488.1" cy="605" r="2.5"/>
</g>
<g fill="#ccc" stroke="#888" stroke-width="0.6">
<circle cx="416.1" cy="636.7" r="2.4"/><circle cx="430.5" cy="628.3" r="2.4"/><circle cx="444.9" cy="619.3" r="2.4"/><circle cx="459.3" cy="612.3" r="2.4"/><circle cx="473.7" cy="606" r="2.4"/><circle cx="488.1" cy="604" r="2.4"/>
</g>
<text x="416" y="729" font-size="9" text-anchor="middle">*</text>

<!-- ===== m ===== -->
<text x="520" y="525" font-size="12" font-weight="bold">m</text>
<g stroke="#000" stroke-width="0.8" fill="none">
<line x1="535.7" y1="579" x2="535.7" y2="723.3"/><line x1="535.7" y1="723.3" x2="589" y2="723.3"/>
<path d="M532.5,723.3 H535.7 M532.5,694.4 H535.7 M532.5,665.5 H535.7 M532.5,636.7 H535.7 M532.5,607.8 H535.7 M532.5,579 H535.7"/>
</g>
<g font-size="9.5" text-anchor="end"><text x="532" y="726.7">0</text><text x="532" y="697.8">2</text><text x="532" y="669">4</text><text x="532" y="640">6</text><text x="532" y="611.2">8</text><text x="532" y="582.4">10</text></g>
<text transform="translate(513,662) rotate(-90)" font-size="10" text-anchor="middle">sag</text>
<rect x="539" y="655.5" width="12.7" height="67.8" fill="#fff" stroke="#000" stroke-width="0.8"/>
<rect x="555.3" y="688.7" width="13.3" height="34.6" fill="#000"/>
<rect x="572" y="698.1" width="14.7" height="25.2" fill="#bbb" stroke="#888" stroke-width="0.6"/>
<g stroke="#000" stroke-width="0.8" fill="none"><path d="M545.3,655.5 V646.8 M542.8,646.8 H547.8 M562,688.7 V682.2 M559.5,682.2 H564.5 M579.3,698.1 V693 M576.8,693 H581.8"/>
<line x1="548" y1="557" x2="587" y2="557"/><line x1="548" y1="575" x2="563" y2="575"/><line x1="569" y1="575" x2="587" y2="575"/></g>
<g font-size="9" text-anchor="middle"><text x="568" y="558">*</text><text x="555.5" y="576">*</text><text x="578" y="572.5" font-style="italic" font-size="8">ns</text></g>
<g fill="#fff" stroke="#333" stroke-width="0.6">
<circle cx="545" cy="590" r="2"/><circle cx="545" cy="600" r="2"/><circle cx="545" cy="615" r="2"/><circle cx="545" cy="623.3" r="2"/><circle cx="545" cy="630" r="2"/><circle cx="545" cy="636.7" r="2"/><circle cx="545" cy="643.3" r="2"/><circle cx="545" cy="650" r="2"/><circle cx="545" cy="656.7" r="2"/><circle cx="545" cy="663.3" r="2"/><circle cx="545" cy="667" r="2"/><circle cx="545" cy="670.3" r="2"/><circle cx="545" cy="673.6" r="2"/><circle cx="545" cy="678.3" r="2"/><circle cx="545" cy="681.7" r="2"/><circle cx="545" cy="685" r="2"/><circle cx="545" cy="688.3" r="2"/><circle cx="545" cy="691.7" r="2"/><circle cx="545" cy="696.7" r="2"/>
</g>
<g fill="#000"><circle cx="562" cy="654" r="1.9"/><circle cx="562" cy="657.3" r="1.9"/><circle cx="562" cy="665.7" r="1.9"/><circle cx="562" cy="671" r="1.9"/><circle cx="562" cy="674" r="1.9"/><circle cx="562" cy="676.7" r="1.9"/><circle cx="562" cy="681.7" r="1.9"/></g>
<g fill="none" stroke="#aaa" stroke-width="0.6"><circle cx="562" cy="700" r="1.9"/><circle cx="562" cy="705" r="1.9"/><circle cx="562" cy="710" r="1.9"/><circle cx="562" cy="715" r="1.9"/><circle cx="562" cy="719.3" r="1.9"/></g>
<g fill="#ddd" stroke="#666" stroke-width="0.6">
<circle cx="579" cy="659.3" r="2"/><circle cx="579" cy="663.3" r="2"/><circle cx="579" cy="682.7" r="2"/><circle cx="579" cy="686" r="2"/><circle cx="579" cy="693.3" r="2"/><circle cx="579" cy="700" r="2"/><circle cx="579" cy="705" r="2"/><circle cx="579" cy="713.3" r="2"/><circle cx="579" cy="722" r="2"/>
</g>
<g font-size="10" text-anchor="middle"><text x="545" y="733.5">CTL</text><text x="562" y="733.5">AD</text><text x="579.5" y="733.5">A</text></g>
</svg>
</body></html>
